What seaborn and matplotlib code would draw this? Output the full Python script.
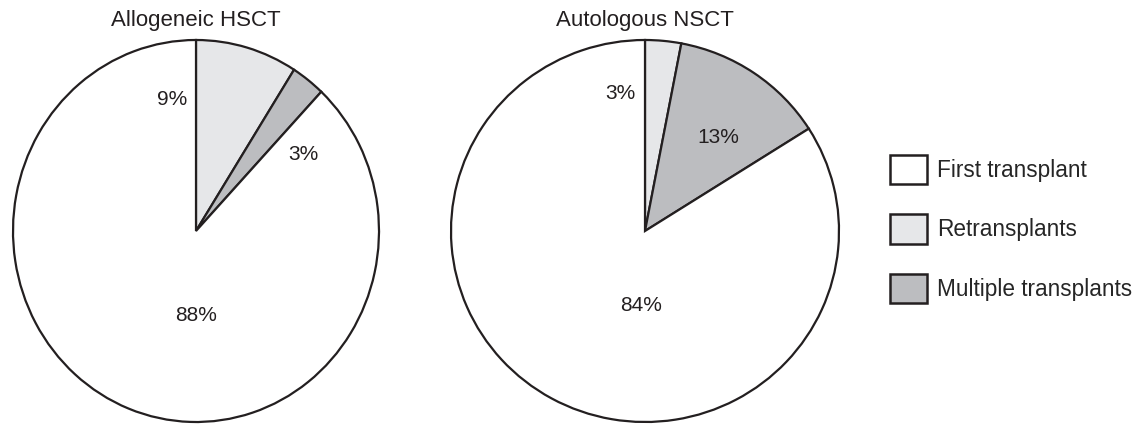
import matplotlib
matplotlib.use("Agg")
import matplotlib.pyplot as plt
import seaborn as sns
from matplotlib.patches import Patch

sns.set_theme(style="white")
plt.rcParams['font.family'] = ['Liberation Sans', 'DejaVu Sans']

# data (wedge order: clockwise from 12 o'clock)
categories = ['Retransplants', 'Multiple transplants', 'First transplant']
allo_values = [9, 3, 88]
auto_values = [3, 13, 84]
titles = ['Allogeneic HSCT', 'Autologous NSCT']
legend_order = ['First transplant', 'Retransplants', 'Multiple transplants']

colors = {'First transplant': '#ffffff',
          'Retransplants': '#e6e7e9',
          'Multiple transplants': '#bcbdc0'}
edge = '#231f20'

# label positions inside each pie (unit radius coords)
allo_label_pos = [(-0.13, 0.69), (0.585, 0.40), (0.0, -0.445)]
auto_label_pos = [(-0.125, 0.72), (0.376, 0.49), (-0.02, -0.39)]

W, H = 1143, 424
fig = plt.figure(figsize=(W / 100, H / 100), dpi=100)


def px_axes(x0, x1, y0, y1):
    return fig.add_axes([x0 / W, (H - y1) / H, (x1 - x0) / W, (y1 - y0) / H])


ax1 = px_axes(13, 379, 40, 422)
ax2 = px_axes(451, 839, 40, 422)

for ax, vals, title, lpos in [(ax1, allo_values, titles[0], allo_label_pos),
                              (ax2, auto_values, titles[1], auto_label_pos)]:
    wedges, texts = ax.pie(vals, startangle=90, counterclock=False,
                           colors=[colors[c] for c in categories],
                           labels=[f'{v}%' for v in vals],
                           wedgeprops=dict(edgecolor=edge, linewidth=1.6),
                           textprops=dict(fontsize=15, color='#231f20'))
    for t, (x, y) in zip(texts, lpos):
        t.set_position((x, y))
        t.set_ha('center')
        t.set_va('center')
    ax.set_aspect('auto')
    ax.set_xlim(-1.0, 1.0)
    ax.set_ylim(-1.0, 1.0)
    ax.axis('off')
    ax.text(0.5, 1.037, title, transform=ax.transAxes, ha='center',
            va='baseline', fontsize=16, color='#231f20')

handles = [Patch(facecolor=colors[c], edgecolor=edge, linewidth=1.8, label=c)
           for c in legend_order]
fig.legend(handles=handles, loc='upper left',
           bbox_to_anchor=(881 / W, 1 - 146 / H),
           frameon=False, fontsize=16.3, handlelength=1.64, handleheight=1.62,
           handletextpad=0.43, labelspacing=1.32, borderaxespad=0)

fig.savefig('out.png', dpi=100)
